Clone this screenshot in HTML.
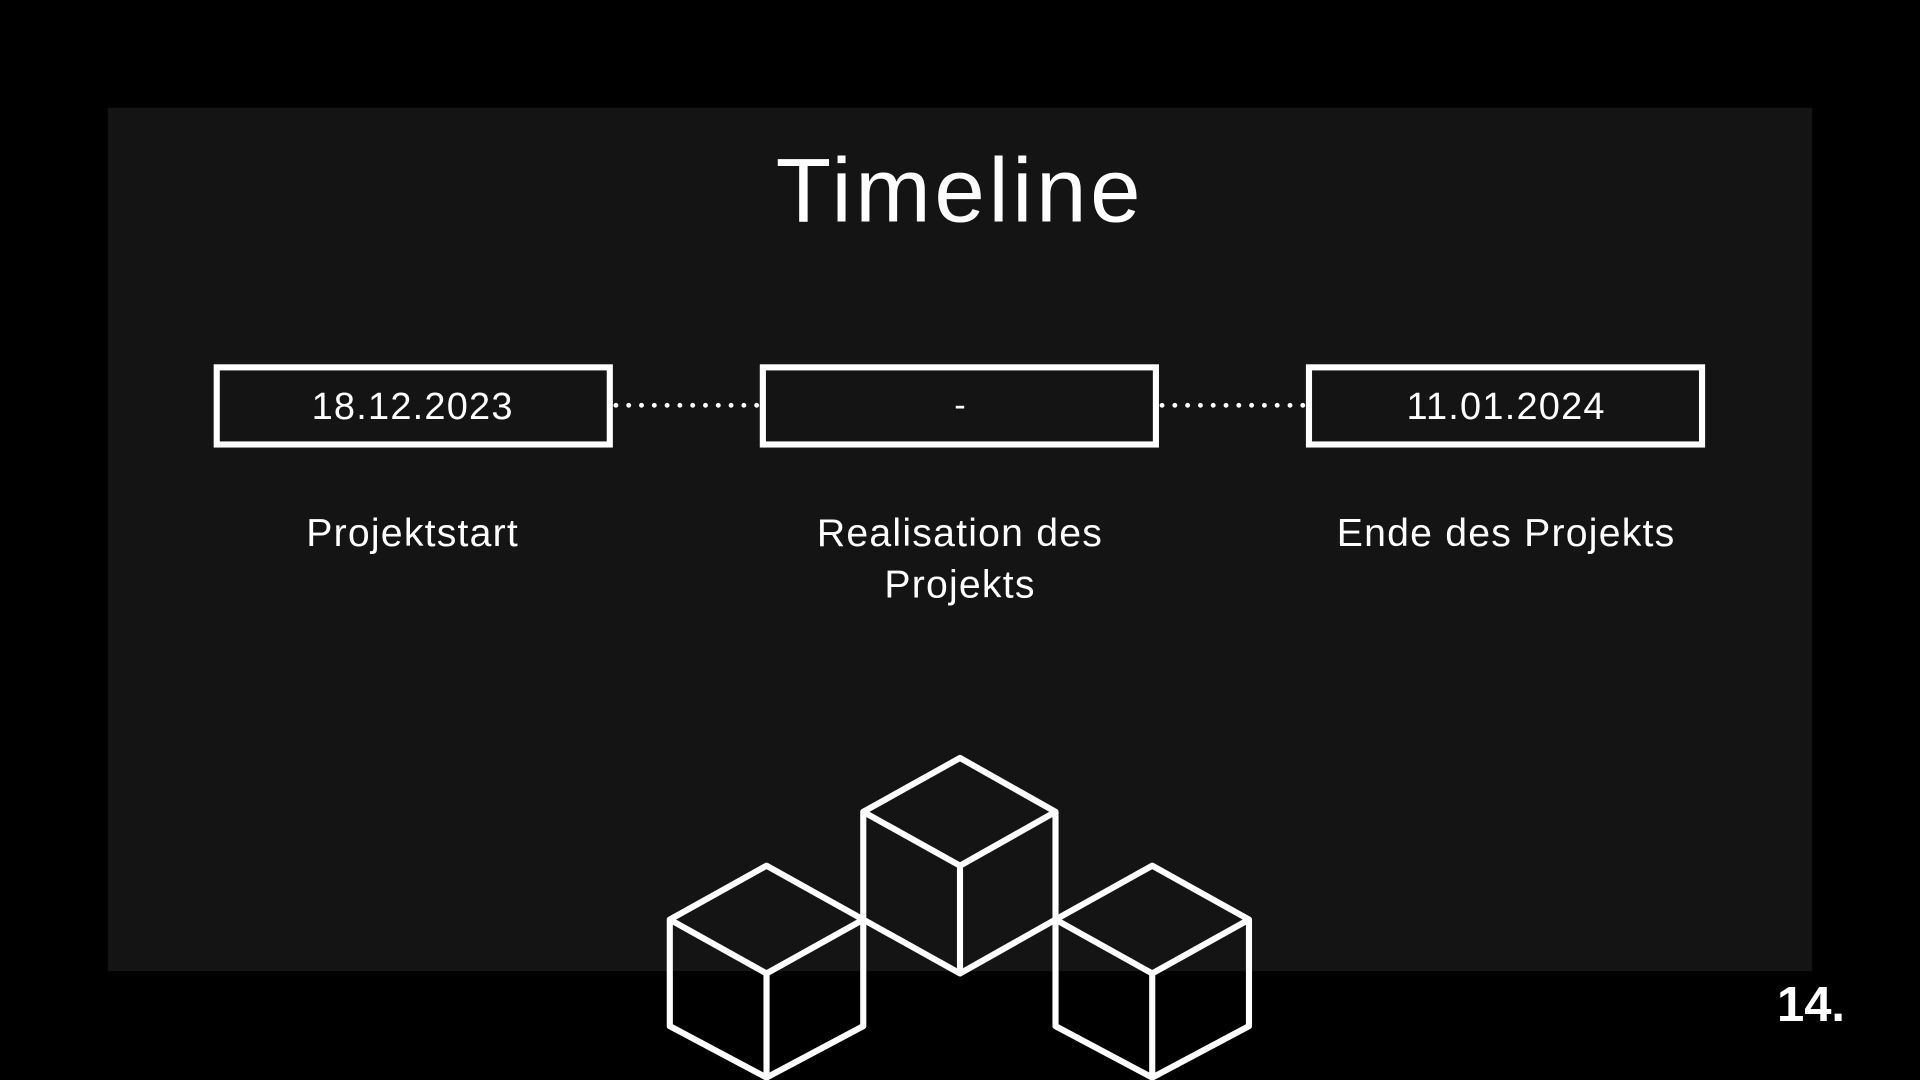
<!DOCTYPE html>
<html><head><meta charset="utf-8"><style>
html,body{margin:0;padding:0;background:#000;}
svg{display:block;}
text{font-family:"Liberation Sans",sans-serif;fill:#fff;}
</style></head><body>
<svg width="1920" height="1080" viewBox="0 0 1568 882" xmlns="http://www.w3.org/2000/svg">
<rect x="0" y="0" width="1568" height="882" fill="#000"/>
<rect x="88" y="88" width="1392" height="705" fill="#141414"/>
<text x="784" y="181" font-size="74" text-anchor="middle" letter-spacing="3">Timeline</text>
<g fill="none" stroke="#fff" stroke-width="5">
<rect x="177" y="300" width="321" height="63"/>
<rect x="623" y="300" width="321" height="63"/>
<rect x="1069" y="300" width="321" height="63"/>
</g>
<g stroke="#fff" stroke-width="4" stroke-linecap="round" stroke-dasharray="0 10.45">
<line x1="503" y1="331" x2="619" y2="331"/>
<line x1="949" y1="331" x2="1065" y2="331"/>
</g>
<text x="337" y="342" font-size="31" text-anchor="middle" letter-spacing="1">18.12.2023</text>
<text x="784" y="340" font-size="28" text-anchor="middle">-</text>
<text x="1230" y="342" font-size="31" text-anchor="middle" letter-spacing="1">11.01.2024</text>
<g font-size="32" letter-spacing="1" text-anchor="middle">
<text x="337" y="446">Projektstart</text>
<text x="784" y="446">Realisation des</text>
<text x="784" y="488">Projekts</text>
<text x="1230" y="446">Ende des Projekts</text>
</g>
<g fill="none" stroke="#fff" stroke-width="5" stroke-linejoin="round">
<path d="M784 619 L862 663 L862 751 L784 795 L705 751 L705 663 Z M705 663 L784 707 L862 663 M784 707 L784 795"/>
<path d="M626 707 L705 751 L705 838 L626 880 L547 838 L547 751 Z M547 751 L626 795 L705 751 M626 795 L626 880"/>
<path d="M941 707 L1020 751 L1020 838 L941 880 L862 838 L862 751 Z M862 751 L941 795 L1020 751 M941 795 L941 880"/>
</g>
<text x="1479" y="834" font-size="40" font-weight="bold" text-anchor="middle">14.</text>
</svg>
</body></html>
